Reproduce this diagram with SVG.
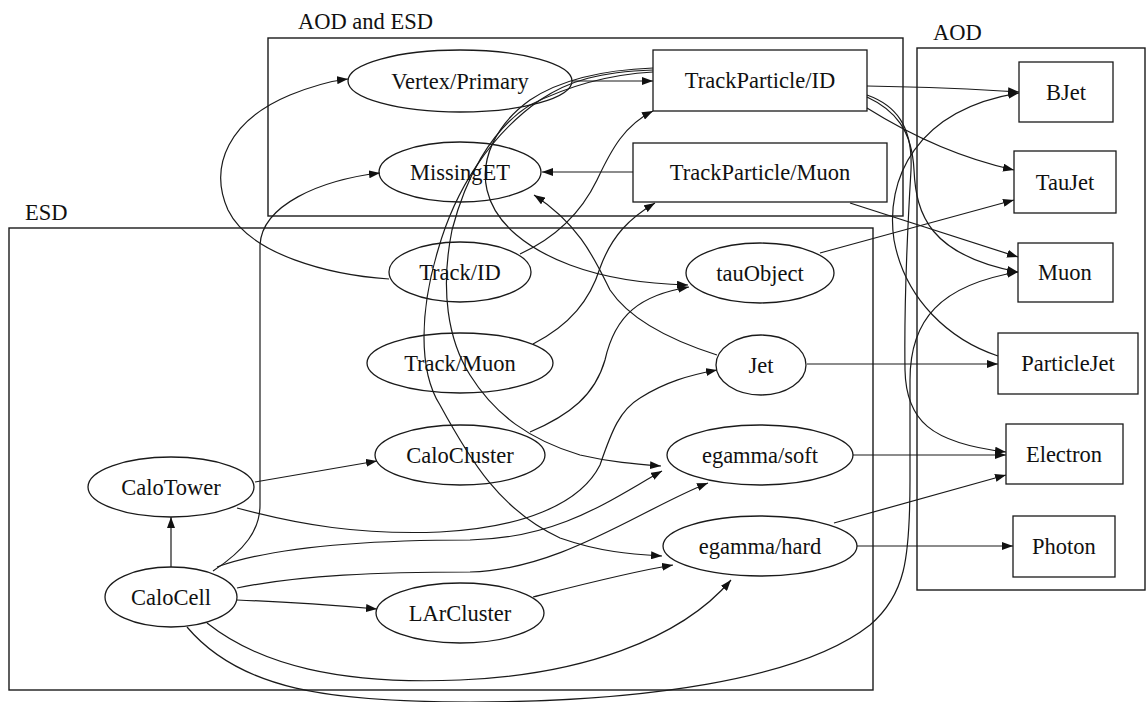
<svg xmlns="http://www.w3.org/2000/svg" width="1146" height="702" viewBox="0 0 1146 702">
<style>
.cl{fill:none;stroke:#1a1a1a;stroke-width:1.4}
.n{fill:none;stroke:#1a1a1a;stroke-width:1.3}
.e{fill:none;stroke:#1a1a1a;stroke-width:1.2;marker-end:url(#ah)}
text{font-family:"Liberation Serif","Times New Roman",serif;font-size:22.5px;fill:#111}
.c{text-anchor:middle}
</style>
<defs>
<marker id="ah" markerUnits="userSpaceOnUse" markerWidth="12" markerHeight="8" refX="11" refY="4" orient="auto">
<path d="M0,0 L11,4 L0,8 z" fill="#111"/>
</marker>
</defs>
<rect width="1146" height="702" fill="#fff"/>
<g id="clusters">
<rect class="cl" x="268" y="38" width="635" height="178"/>
<text x="298" y="29">AOD and ESD</text>
<rect class="cl" x="9" y="228" width="864" height="462"/>
<text x="25" y="220">ESD</text>
<rect class="cl" x="917" y="48" width="228" height="542"/>
<text x="933" y="40">AOD</text>
</g>
<g id="connectors">
<path class="e" d="M572,81 L653,81"/>
<path class="e" d="M389,279 C330,275 250,255 228,210 C208,165 230,120 290,95 C310,87 330,81 348,79"/>
<path class="e" d="M213,571 C245,550 260,530 260,505 L260,245 C262,205 320,180 380,173"/>
<path class="e" d="M653,70 C600,72 570,80 540,100 C490,135 455,190 438,250 C420,310 418,370 440,405 C470,460 500,510 560,538 C600,552 630,554 662,556"/>
<path class="e" d="M653,72 C600,75 560,90 530,105 C490,130 465,180 452,230 C440,290 448,340 470,375 C495,415 530,440 580,455 C610,462 635,464 661,466"/>
<path class="e" d="M653,68 C600,70 560,80 530,100 C495,125 480,160 487,190 C495,225 530,250 570,265 C610,280 650,284 688,285"/>
<path class="e" d="M520,254 C555,238 580,215 597,180 C612,148 625,125 653,111"/>
<path class="e" d="M533,344 C570,325 590,300 600,268 C612,235 630,218 655,203"/>
<path class="e" d="M530,432 C570,415 595,395 605,360 C615,315 640,295 689,287"/>
<path class="e" d="M237,508 C300,525 360,535 440,532 C520,528 580,505 600,465 C612,430 620,410 640,398 C665,382 690,375 717,370"/>
<path class="e" d="M717,355 C670,340 630,320 610,290 C595,260 580,225 534,195"/>
<path class="e" d="M255,482 L377,461"/>
<path class="e" d="M171,567 L171,517"/>
<path class="e" d="M237,600 C290,602 330,605 377,609"/>
<path class="e" d="M217,567 C270,548 360,540 470,540 C560,538 610,500 662,471"/>
<path class="e" d="M237,588 C300,575 380,572 470,572 C560,570 640,510 708,483"/>
<path class="e" d="M207,623 C260,665 340,685 460,680 C580,675 680,640 731,580"/>
<path class="e" d="M533,597 C580,585 630,572 673,565"/>
<path class="e" d="M187,627 C240,690 330,702 470,702 C640,702 800,680 870,625 C905,595 910,560 910,480 L910,380 C910,320 940,285 1018,272"/>
<path class="e" d="M633,172 L542,172"/>
<path class="e" d="M850,203 L1018,257"/>
<path class="e" d="M867,86 C920,87 960,88 1019,92"/>
<path class="e" d="M867,108 C910,135 960,158 1014,170"/>
<path class="e" d="M867,97 C895,110 912,130 914,170 C916,215 930,255 1018,272"/>
<path class="e" d="M867,95 C895,105 913,125 911,170 C908,220 904,300 905,370 C906,420 930,443 1006,452"/>
<path class="e" d="M998,356 C950,340 905,300 894,240 C885,180 915,110 1019,93"/>
<path class="e" d="M820,253 L1014,200"/>
<path class="e" d="M807,364 L998,364"/>
<path class="e" d="M853,455 L1006,455"/>
<path class="e" d="M834,523 L1006,475"/>
<path class="e" d="M857,546 L1013,546"/>
</g>
<g id="n-vertex"><ellipse class="n" cx="460" cy="81" rx="112" ry="31"/><text class="c" x="460" y="89">Vertex/Primary</text></g>
<g id="n-missinget"><ellipse class="n" cx="460" cy="172" rx="81" ry="30"/><text class="c" x="460" y="180">MissingET</text></g>
<g id="n-tpid"><rect class="n" x="653" y="50" width="214" height="61"/><text class="c" x="760" y="88">TrackParticle/ID</text></g>
<g id="n-tpmuon"><rect class="n" x="633" y="143" width="254" height="59"/><text class="c" x="760" y="180">TrackParticle/Muon</text></g>
<g id="n-bjet"><rect class="n" x="1019" y="62" width="94" height="60"/><text class="c" x="1066" y="100">BJet</text></g>
<g id="n-taujet"><rect class="n" x="1014" y="151" width="102" height="62"/><text class="c" x="1065" y="190">TauJet</text></g>
<g id="n-muon"><rect class="n" x="1018" y="243" width="95" height="59"/><text class="c" x="1065" y="280">Muon</text></g>
<g id="n-particlejet"><rect class="n" x="998" y="333" width="140" height="61"/><text class="c" x="1068" y="371">ParticleJet</text></g>
<g id="n-electron"><rect class="n" x="1006" y="424" width="117" height="60"/><text class="c" x="1064" y="462">Electron</text></g>
<g id="n-photon"><rect class="n" x="1013" y="516" width="102" height="61"/><text class="c" x="1064" y="554">Photon</text></g>
<g id="n-tauobject"><ellipse class="n" cx="760" cy="273" rx="74" ry="30"/><text class="c" x="760" y="281">tauObject</text></g>
<g id="n-jet"><ellipse class="n" cx="761" cy="365" rx="45" ry="30"/><text class="c" x="761" y="373">Jet</text></g>
<g id="n-egsoft"><ellipse class="n" cx="760" cy="455" rx="93" ry="30"/><text class="c" x="760" y="463">egamma/soft</text></g>
<g id="n-eghard"><ellipse class="n" cx="760" cy="546" rx="97" ry="30"/><text class="c" x="760" y="554">egamma/hard</text></g>
<g id="n-trackid"><ellipse class="n" cx="460" cy="272" rx="71" ry="30"/><text class="c" x="460" y="280">Track/ID</text></g>
<g id="n-trackmuon"><ellipse class="n" cx="460" cy="363" rx="93" ry="30"/><text class="c" x="460" y="371">Track/Muon</text></g>
<g id="n-calocluster"><ellipse class="n" cx="460" cy="455" rx="85" ry="30"/><text class="c" x="460" y="463">CaloCluster</text></g>
<g id="n-calotower"><ellipse class="n" cx="171" cy="487" rx="83" ry="30"/><text class="c" x="171" y="495">CaloTower</text></g>
<g id="n-calocell"><ellipse class="n" cx="171" cy="597" rx="66" ry="30"/><text class="c" x="171" y="605">CaloCell</text></g>
<g id="n-larcluster"><ellipse class="n" cx="460" cy="613" rx="84" ry="30"/><text class="c" x="460" y="621">LArCluster</text></g>
</svg>
